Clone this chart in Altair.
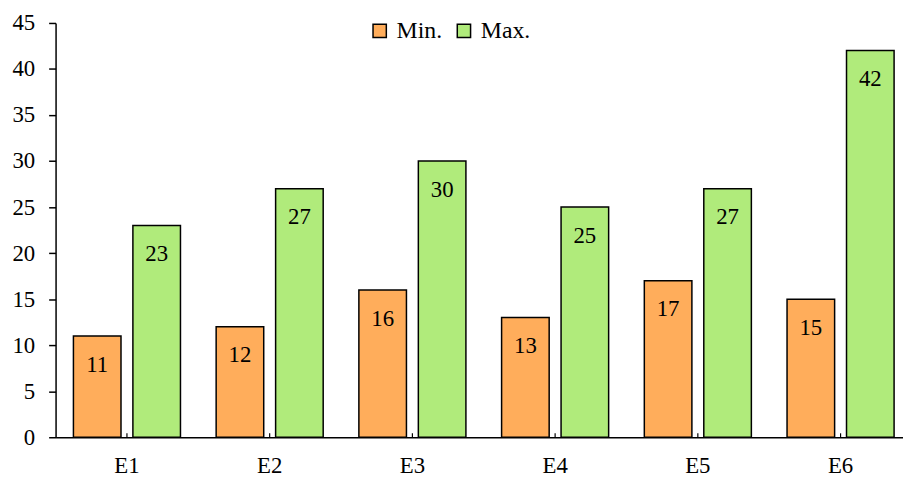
import altair as alt
import pandas as pd

categories = ["E1", "E2", "E3", "E4", "E5", "E6"]
min_vals = [11, 12, 16, 13, 17, 15]
max_vals = [23, 27, 30, 25, 27, 42]
series = ["Min.", "Max."]
colors = ["#FFAD5B", "#B0EB7B"]

rows = []
for c, mn, mx in zip(categories, min_vals, max_vals):
    rows.append({"cat": c, "series": "Min.", "value": mn})
    rows.append({"cat": c, "series": "Max.", "value": mx})
df = pd.DataFrame(rows)
cat_df = pd.DataFrame({"cat": categories})

FONT = "Liberation Serif"
W, H = 855, 418

xscale = alt.Scale(domain=categories, paddingInner=0.25, paddingOuter=0.09375, align=0.667)
x = alt.X("cat:N", sort=categories, title=None, scale=xscale,
          axis=alt.Axis(labelAngle=0, labelFontSize=23, labelFont=FONT, labelColor="black",
                        domainColor="black", domainWidth=1.5, ticks=False, tickSize=0,
                        labelPadding=18))
xo = alt.XOffset("series:N", sort=series, scale=alt.Scale(paddingInner=0.2, paddingOuter=0))
y = alt.Y("value:Q", title=None,
          scale=alt.Scale(domain=[0, 45], nice=False),
          axis=alt.Axis(values=list(range(0, 46, 5)), grid=False, labelFontSize=23, labelFont=FONT,
                        labelColor="black", domainColor="black", domainWidth=1.5,
                        tickColor="black", tickSize=7, tickWidth=1.5, labelPadding=14))

bars = alt.Chart(df).mark_bar(stroke="black", strokeWidth=1.5).encode(
    x=x, xOffset=xo, y=y,
    color=alt.Color("series:N", sort=series,
                    scale=alt.Scale(domain=series, range=colors),
                    legend=alt.Legend(title=None, orient="none", direction="horizontal",
                                      legendX=315, legendY=-4, labelFont=FONT, labelFontSize=24,
                                      labelColor="black", symbolType="square", symbolSize=180,
                                      symbolStrokeColor="black", symbolStrokeWidth=1.5,
                                      columnPadding=9, labelOffset=5)),
)

labels = alt.Chart(df).mark_text(baseline="alphabetic", dy=36, fontSize=23, font=FONT, color="black").encode(
    x=alt.X("cat:N", sort=categories, scale=xscale), xOffset=alt.XOffset("series:N", sort=series),
    y="value:Q", text="value:Q",
)

ticks = alt.Chart(cat_df).mark_rule(color="black", strokeWidth=1.2).encode(
    x=alt.X("cat:N", sort=categories, scale=xscale),
    y=alt.value(H - 4), y2=alt.value(H),
)

chart = (bars + labels + ticks).properties(
    width=W, height=H,
    autosize=alt.AutoSizeParams(type="none"),
    padding={"left": 48, "top": 13, "right": 0, "bottom": 38},
).configure_view(stroke=None)

chart.save("out.html", embed_options={"renderer": "svg", "actions": False})
